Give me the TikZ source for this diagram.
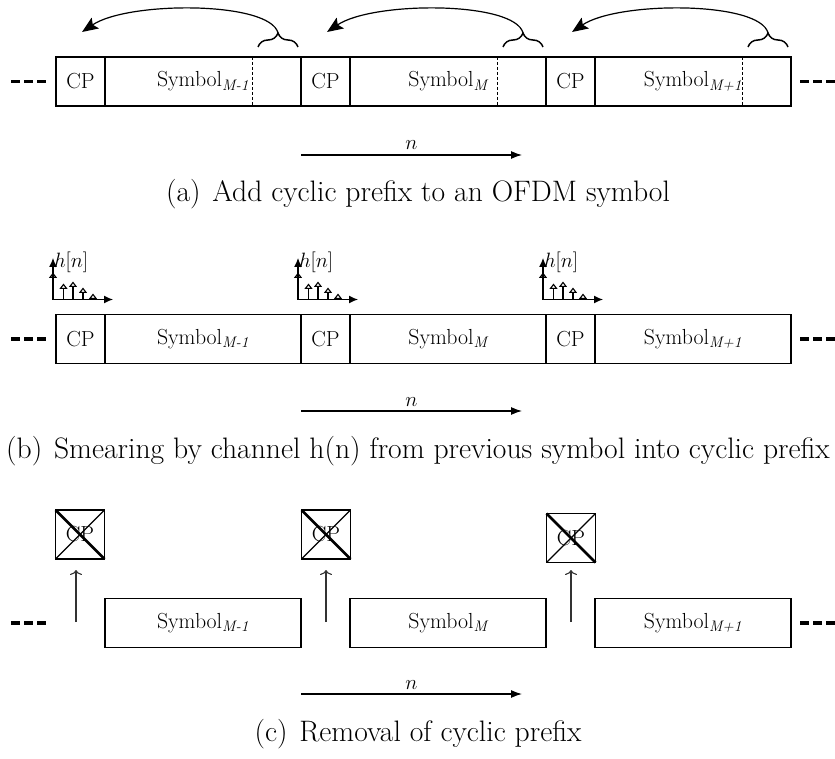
\documentclass[tikz,border=0pt]{standalone}
\usepackage{amsmath}
\usetikzlibrary{arrows.meta,decorations.pathreplacing}
\begin{document}
\begin{tikzpicture}[x=1pt,y=-1pt,
  every node/.style={inner sep=0pt, outer sep=0pt},
  lbl/.style={font=\fontsize{21.8}{26}\selectfont},
  captext/.style={font=\fontsize{29.6}{34}\selectfont, anchor=base},
  cpbox/.style={draw, line width=1.2pt, minimum width=49pt, minimum height=49pt, lbl},
  symbox/.style={draw, line width=1.2pt, minimum width=196pt, minimum height=49pt, lbl},
  tailline/.style={line width=0.8pt, dash pattern=on 3pt off 2pt},
  bracestyle/.style={decorate, decoration={brace, amplitude=14pt}, line width=1.5pt},
  copyarrow/.style={line width=1.2pt, -{Stealth[length=16pt,width=13pt,inset=3pt]}},
  narrow/.style={line width=1.2pt, -{Latex[length=11pt,width=8pt]}},
  axisarrow/.style={line width=1.2pt, -{Latex[length=9pt,width=8pt]}},
  stem/.style={line width=1.1pt, -{Triangle[open,length=5.5pt,width=8pt,line width=1.1pt]}},
  dots3/.style={line width=3.2pt, dash pattern=on 9pt off 4.2pt},
  uparrow/.style={line width=1.1pt, draw=black!80, -{To[length=5pt,width=12pt]}},
  thickx/.style={line width=2.8pt},
  thinx/.style={line width=1.2pt},
]
\useasboundingbox (0,0) rectangle (835,759);

% ---------------- (a) ----------------
\foreach \i/\sub in {0/{M-1},1/{M},2/{M+1}} {
  \pgfmathsetmacro\o{245*\i}
  \node[cpbox] (a\i cp) at ({\o+80.5},81.5) {CP};
  \node[symbox] (a\i s) at ({\o+203},81.5) {Symbol$_{\textit{\sub}}$};
  \draw[tailline] ([xshift=-49pt]a\i s.north east) -- ([xshift=-49pt]a\i s.south east);
  \draw[bracestyle] ({\o+258},47) -- ({\o+298},47);
  \coordinate (a\i b) at ({\o+278},33);
  \coordinate (a\i t) at ({\o+82},32);
  \draw[copyarrow] (a\i b) .. controls ({\o+270},1) and ({\o+128},1) .. (a\i t);
}
\coordinate (aL1) at (11,81.5); \coordinate (aL2) at (50,81.5);
\coordinate (aR1) at (800,81.5); \coordinate (aR2) at (840,81.5);
\draw[dots3] (aL1) -- (aL2);
\draw[dots3] (aR1) -- (aR2);
\coordinate (an1) at (301,155); \coordinate (an2) at (522,155);
\draw[narrow] (an1) -- (an2) node[midway, above=5pt, lbl] {$n$};
\node[captext] (capa) at (418,202) {(a)\hskip0.4em Add cyclic prefix to an OFDM symbol};

% ---------------- (b) ----------------
\foreach \i/\sub in {0/{M-1},1/{M},2/{M+1}} {
  \pgfmathsetmacro\o{245*\i}
  \node[cpbox] (b\i cp) at ({\o+80.5},339) {CP};
  \node[symbox] (b\i s) at ({\o+203},339) {Symbol$_{\textit{\sub}}$};
  \coordinate (b\i o) at ({\o+53},299.5);
  \coordinate (b\i y) at ({\o+53},258);
  \coordinate (b\i x) at ({\o+113},299.5);
  \draw[axisarrow] (b\i o) -- (b\i y);
  \draw[axisarrow] (b\i o) -- (b\i x);
  \draw[stem] (b\i o) -- ++(0,-27);
  \draw[stem] ({\o+63.5},299.5) -- ++(0,-16);
  \draw[stem] ({\o+73},299.5) -- ++(0,-18);
  \draw[stem] ({\o+83},299.5) -- ++(0,-12);
  \draw[stem] ({\o+93},299.5) -- ++(0,-6);
  \node[anchor=west, font=\fontsize{19.5}{22}\selectfont] (b\i h) at ({\o+54},262) {$h[n]$};
}
\coordinate (bL1) at (11,339); \coordinate (bL2) at (50,339);
\coordinate (bR1) at (800,339); \coordinate (bR2) at (840,339);
\draw[dots3] (bL1) -- (bL2);
\draw[dots3] (bR1) -- (bR2);
\coordinate (bn1) at (301,411); \coordinate (bn2) at (522,411);
\draw[narrow] (bn1) -- (bn2) node[midway, above=5pt, lbl] {$n$};
\node[captext] (capb) at (418,458) {(b)\hskip0.4em Smearing by channel h(n) from previous symbol into cyclic prefix};

% ---------------- (c) ----------------
\foreach \i/\sub/\cx/\cy/\ax in {0/{M-1}/80/534.5/76, 1/{M}/326/534.5/326, 2/{M+1}/571/538/571} {
  \pgfmathsetmacro\o{245*\i}
  \node[cpbox] (c\i cp) at (\cx,\cy) {CP};
  \draw[thickx] (c\i cp.north west) -- (c\i cp.south east);
  \draw[thinx] (c\i cp.south west) -- (c\i cp.north east);
  \node[symbox] (c\i s) at ({\o+203},623) {Symbol$_{\textit{\sub}}$};
  \coordinate (c\i a1) at (\ax,622);
  \coordinate (c\i a2) at (\ax,570);
  \draw[uparrow] (c\i a1) -- (c\i a2);
}
\coordinate (cL1) at (11,623); \coordinate (cL2) at (50,623);
\coordinate (cR1) at (800,623); \coordinate (cR2) at (840,623);
\draw[dots3] (cL1) -- (cL2);
\draw[dots3] (cR1) -- (cR2);
\coordinate (cn1) at (301,694); \coordinate (cn2) at (522,694);
\draw[narrow] (cn1) -- (cn2) node[midway, above=5pt, lbl] {$n$};
\node[captext] (capc) at (418,741) {(c)\hskip0.4em Removal of cyclic prefix};
\end{tikzpicture}
\end{document}
